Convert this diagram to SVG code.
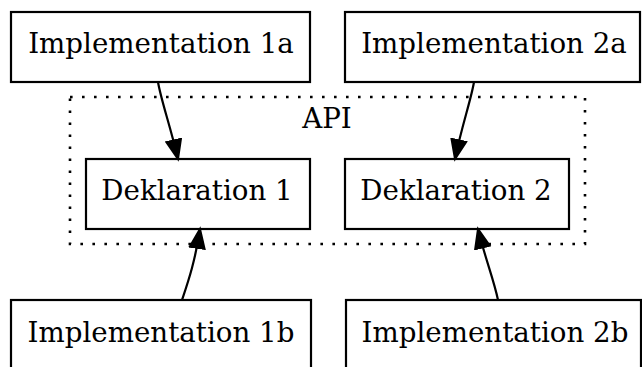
<svg xmlns="http://www.w3.org/2000/svg" width="642" height="367" viewBox="0 0 642 367">
  <style>
    .node rect { fill: #ffffff; stroke: #000000; stroke-width: 2.2; }
    .label { font-family: "DejaVu Serif", "Liberation Serif", serif; font-size: 27.7px; fill: #000000; text-anchor: middle; }
    .cluster rect { fill: none; stroke: #000000; stroke-width: 2.6; stroke-dasharray: 2.6 9.4; }
    .edge { fill: none; stroke: #000000; stroke-width: 2.2; marker-end: url(#arrow); }
  </style>
  <defs>
    <marker id="arrow" markerUnits="userSpaceOnUse" markerWidth="24" markerHeight="20" refX="20" refY="9" orient="auto">
      <path d="M1,1.5 L20,9 L1,16.5 Z" fill="#000000" stroke="#000000" stroke-width="2" stroke-linejoin="miter"/>
    </marker>
  </defs>
  <rect width="642" height="367" fill="#ffffff"/>

  <!-- API cluster -->
  <g id="cluster_api" class="cluster">
    <rect x="70" y="97" width="515" height="147"/>
    <text class="label" x="327" y="128">API</text>
  </g>

  <!-- Nodes -->
  <g id="impl1a" class="node">
    <rect x="11" y="12" width="299" height="70"/>
    <text class="label" x="161" y="53">Implementation 1a</text>
  </g>
  <g id="impl2a" class="node">
    <rect x="345" y="12" width="295" height="70"/>
    <text class="label" x="494" y="53">Implementation 2a</text>
  </g>
  <g id="decl1" class="node">
    <rect x="86" y="159" width="224" height="70"/>
    <text class="label" x="197" y="200">Deklaration 1</text>
  </g>
  <g id="decl2" class="node">
    <rect x="345" y="159" width="224" height="70"/>
    <text class="label" x="456" y="200">Deklaration 2</text>
  </g>
  <g id="impl1b" class="node">
    <rect x="11" y="300" width="300" height="70"/>
    <text class="label" x="161" y="342">Implementation 1b</text>
  </g>
  <g id="impl2b" class="node">
    <rect x="346" y="300" width="295" height="70"/>
    <text class="label" x="495" y="342">Implementation 2b</text>
  </g>

  <!-- Connectors -->
  <g id="edges">
    <path class="edge" d="M158,82 C161,100 170,125 178,159"/>
    <path class="edge" d="M474,82 C471,100 462,125 455,159"/>
    <path class="edge" d="M182,300 C188,282 195,262 200,229"/>
    <path class="edge" d="M498,300 C494,280 485,258 478,229"/>
  </g>
</svg>
